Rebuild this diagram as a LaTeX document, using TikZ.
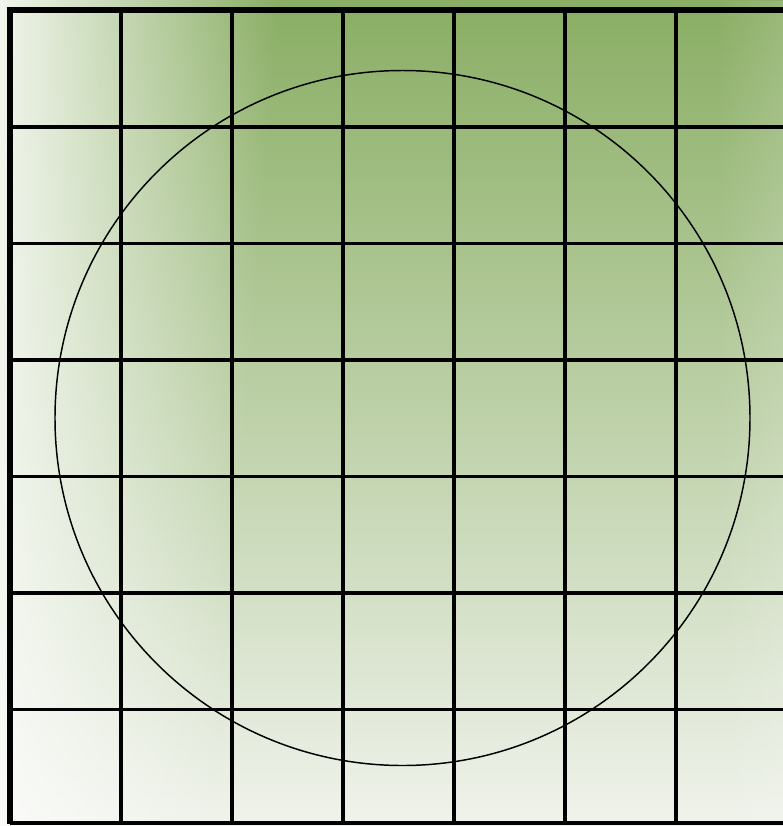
\documentclass[tikz,border=0pt]{standalone}
\usepackage{tikz}
\usetikzlibrary{fadings}

\definecolor{leafgreen}{RGB}{138,174,100}
\definecolor{palegreen}{RGB}{240,243,236}

\pgfdeclarehorizontalshading{leftfadeshade}{100bp}{color(0bp)=(white); color(40bp)=(white); color(63bp)=(black); color(100bp)=(black)}
\pgfdeclarehorizontalshading{rightfadeshade}{100bp}{color(0bp)=(black); color(60bp)=(black); color(100bp)=(white)}
\tikzfading[name=fade left, shading=leftfadeshade]
\tikzfading[name=fade right, shading=rightfadeshade]

\tikzset{
  gridline/.style={black, line width=2.4pt},
  frameline/.style={black, line width=4pt},
  ring/.style={black, line width=1.1pt}
}

\begin{document}
\begin{tikzpicture}[x=0.75pt, y=-0.75pt]
    \useasboundingbox (0,0) rectangle (783,826);
    % background: green at the top, pale at the bottom
    \shade[top color=leafgreen, bottom color=palegreen] (0,0) rectangle (783,826);
    % whitish fade on the left side, a little slanted
    \begin{scope}
        \clip (0,0) rectangle (783,826);
        \fill[white, opacity=0.95, path fading=fade left, fading angle=-8] (-240,-200) rectangle (400,1030);
        \fill[white, opacity=0.35, path fading=fade right] (560,0) rectangle (783,826);
    \end{scope}
    % grid
    \foreach \x in {121,232,...,676}
        \draw[gridline] (\x,10) -- (\x,823);
    \foreach \y in {127,243.5,...,720}
        \draw[gridline] (10,\y) -- (783,\y);
    \draw[gridline] (10,823) -- (783,823);
    % outer frame, left and top
    \draw[frameline] (783,10) -- (10,10) -- (10,824);
    % the circle
    \draw[ring] (402.5,418) circle (347.5);
\end{tikzpicture}
\end{document}
